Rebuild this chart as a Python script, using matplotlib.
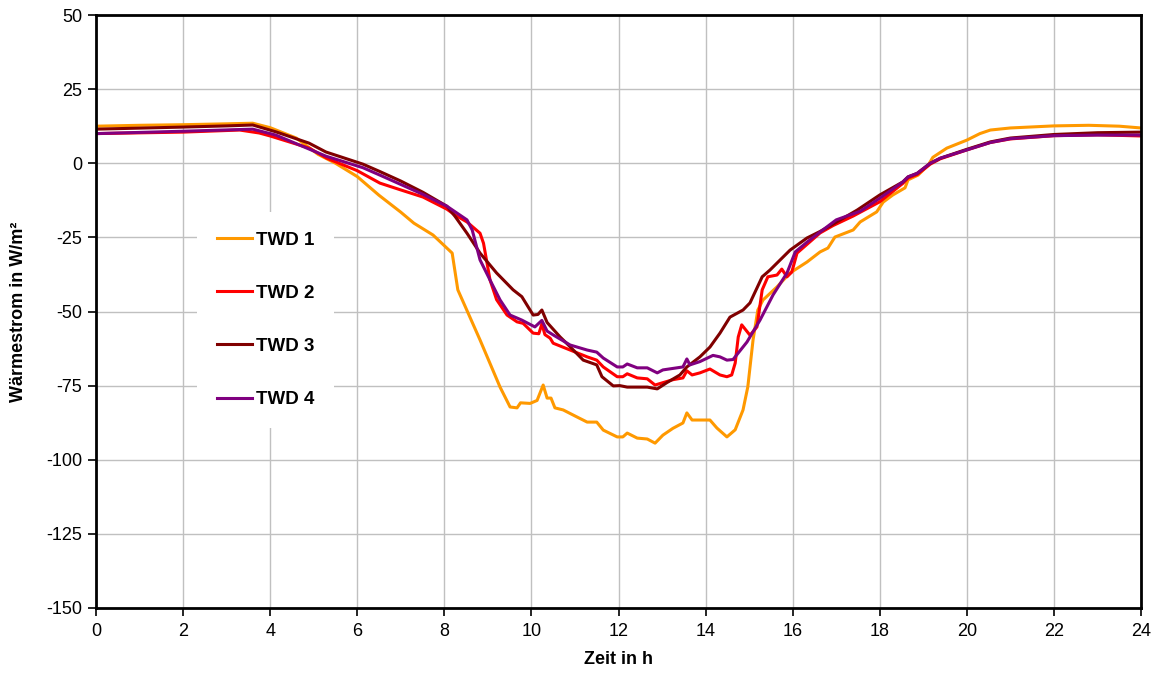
import matplotlib
matplotlib.use("Agg")
import matplotlib.pyplot as plt

plt.rcParams['font.family'] = ['Liberation Sans', 'DejaVu Sans']
plt.rcParams['axes.unicode_minus'] = False

# Heat flow measurements over one day (hours, W/m²)
twd1_h = [0, 1, 2, 3, 3.6, 4.0, 4.6, 5.1, 5.5, 6.0, 6.5, 7.0, 7.3, 7.74, 8.18, 8.31,
          8.82, 9.28, 9.51, 9.67, 9.75, 9.97, 10.13, 10.27, 10.36, 10.45, 10.54, 10.73,
          11.05, 11.28, 11.5, 11.65, 11.97, 12.1, 12.2, 12.43, 12.66, 12.84, 13.02,
          13.25, 13.48, 13.57, 13.69, 14.1, 14.26, 14.49, 14.68, 14.86, 14.97, 15.09,
          15.2, 15.32, 15.64, 15.94, 16.33, 16.63, 16.81, 16.97, 17.39, 17.55, 17.93,
          18.08, 18.3, 18.58, 18.65, 18.88, 19.11, 19.22, 19.54, 20.0, 20.3, 20.54,
          21.0, 22.0, 22.8, 23.5, 24.0]
twd1_q = [12.5, 12.8, 13, 13.3, 13.5, 12, 8.5, 3, 0, -4.5, -10.8, -16.5, -20.2, -24.2,
          -30.3, -42.7, -59.6, -75.5, -82.2, -82.5, -80.8, -81, -80, -74.8, -79.2, -79.2,
          -82.5, -83.2, -85.6, -87.3, -87.3, -90, -92.3, -92.3, -91, -92.7, -93, -94.4,
          -91.7, -89.4, -87.6, -84.2, -86.6, -86.6, -89.3, -92.3, -89.9, -83.2, -75.4,
          -59.6, -49.5, -46.1, -41.7, -37, -33.3, -29.9, -28.6, -24.9, -22.5, -19.8,
          -16.4, -13.1, -10.7, -8.3, -5.6, -4, -0.7, 2, 5.1, 7.8, 10, 11.2, 11.9, 12.6,
          12.8, 12.5, 11.9]

twd2_h = [0, 2, 3.3, 3.75, 4.0, 4.9, 5.3, 6.0, 6.52, 7.0, 7.51, 8.06, 8.25, 8.52, 8.82,
          8.9, 9.05, 9.2, 9.44, 9.67, 9.81, 10.04, 10.17, 10.24, 10.31, 10.43, 10.5,
          10.89, 11.28, 11.5, 11.65, 11.97, 12.1, 12.2, 12.43, 12.66, 12.84, 13.02,
          13.25, 13.48, 13.57, 13.69, 13.87, 14.1, 14.33, 14.49, 14.6, 14.68, 14.75,
          14.83, 15.02, 15.18, 15.3, 15.43, 15.64, 15.75, 15.87, 15.98, 16.1, 16.63,
          16.93, 17.39, 18.0, 18.53, 18.65, 18.86, 19.16, 19.39, 20.0, 20.54, 21.0,
          22.0, 23.0, 24.0]
twd2_q = [10, 10.5, 11.2, 10.2, 9.2, 5.1, 1.7, -2.5, -6.7, -9, -11.4, -15.5, -17.5, -19.8,
          -23.6, -27, -39.4, -46, -51.2, -53.5, -54, -57.3, -57.5, -54.2, -57.8, -59,
          -60.7, -63, -65.3, -66.4, -68.7, -72, -72, -71, -72.4, -72.7, -74.8, -74, -73,
          -72.4, -70, -71.4, -70.7, -69.4, -71.4, -72, -71.4, -67.4, -58.6, -54.5, -58,
          -55.2, -42.7, -38.3, -37.7, -35.7, -38.3, -36.7, -30.3, -23.5, -21, -17.8, -13,
          -6.8, -5, -3.8, -0.3, 1.5, 4.5, 7, 8.2, 9.3, 9.6, 9.2]

twd3_h = [0, 2, 3.0, 3.6, 4.13, 4.89, 5.28, 6.13, 6.52, 7.0, 7.51, 8.06, 8.25, 8.52,
          8.82, 9.2, 9.58, 9.78, 10.04, 10.15, 10.24, 10.36, 10.47, 10.66, 10.89, 11.19,
          11.5, 11.62, 11.88, 12.03, 12.2, 12.33, 12.66, 12.89, 13.11, 13.41, 13.57,
          13.72, 13.87, 14.1, 14.33, 14.56, 14.86, 15.02, 15.3, 15.48, 15.94, 16.33,
          16.63, 16.93, 17.48, 18.0, 18.53, 18.65, 18.86, 19.16, 19.39, 20.0, 20.54,
          21.0, 22.0, 23.0, 24.0]
twd3_q = [11.5, 12.2, 12.6, 12.9, 10.6, 6.8, 3.8, -0.3, -2.8, -6, -9.8, -14.5, -18, -23.6,
          -30.3, -37, -42.7, -45, -51.2, -51, -49.5, -53.7, -55.5, -58.6, -61.9, -66.4,
          -68, -72, -75.1, -75, -75.5, -75.5, -75.5, -76.1, -74, -71.4, -68.7, -67,
          -65.3, -62, -57.3, -51.9, -49.5, -47.1, -38.3, -36, -29.3, -25.2, -23, -20.5,
          -15.8, -10.7, -6.3, -4.6, -3.4, 0, 1.7, 4.7, 7.2, 8.5, 9.7, 10.3, 10.5]

twd4_h = [0, 2, 3.6, 4.13, 5.28, 6.13, 6.52, 7.51, 8.06, 8.25, 8.52, 8.64, 8.82, 9.05,
          9.28, 9.51, 9.67, 9.78, 10.08, 10.24, 10.36, 10.5, 10.89, 11.28, 11.5, 11.65,
          11.97, 12.1, 12.2, 12.43, 12.66, 12.89, 13.02, 13.48, 13.57, 13.64, 13.87,
          14.17, 14.33, 14.49, 14.63, 14.95, 15.25, 15.55, 15.87, 16.06, 16.33, 16.63,
          17.0, 17.55, 18.0, 18.53, 18.65, 18.86, 19.16, 19.39, 20.0, 20.54, 21.0, 22.0,
          23.0, 24.0]
twd4_q = [10, 10.8, 11.5, 9.5, 2.4, -1.5, -4, -10.5, -14.5, -16.4, -19.1, -22.5, -32.6,
          -39.4, -46.1, -51.2, -52.2, -52.9, -55.2, -53, -56.6, -57.9, -61.3, -63, -63.7,
          -65.7, -68.7, -68.7, -67.7, -69, -69, -70.7, -69.7, -68.7, -66, -68, -66.9,
          -64.8, -65.3, -66.4, -66.2, -60.3, -52.9, -44.4, -37, -29.9, -26.6, -23.2,
          -19.1, -16.2, -11.8, -6.3, -4.6, -3.4, 0, 1.7, 4.5, 7, 8.3, 9.3, 9.5, 9.5]

series_labels = ["TWD 1", "TWD 2", "TWD 3", "TWD 4"]
series_colors = ["#FF9900", "#FF0000", "#800000", "#800080"]
x_ticks = list(range(0, 25, 2))
y_ticks = list(range(-150, 51, 25))

fig = plt.figure(figsize=(11.58, 6.84), dpi=100)
ax = fig.add_axes([96 / 1158, 1 - 608 / 684, (1141 - 96) / 1158, (608 - 15) / 684])

for (h, q), lab, col in zip([(twd1_h, twd1_q), (twd2_h, twd2_q),
                             (twd3_h, twd3_q), (twd4_h, twd4_q)],
                            series_labels, series_colors):
    ax.plot(h, q, color=col, lw=2.2, label=lab, solid_joinstyle='round')

ax.set_xlim(0, 24)
ax.set_ylim(-150, 50)
ax.set_xticks(x_ticks)
ax.set_yticks(y_ticks)
ax.grid(True, color="#C0C0C0", lw=1.0)
ax.set_axisbelow(True)
for s in ax.spines.values():
    s.set_linewidth(2.0)
    s.set_color("black")
ax.tick_params(axis='both', direction='out', length=6, width=1.2, labelsize=13,
               color='black')
ax.tick_params(axis='x', pad=5)
ax.tick_params(axis='y', pad=4)

ax.set_xlabel("Zeit in h", fontsize=13, fontweight='bold', labelpad=8)
ax.set_ylabel("Wärmestrom in W/m²", fontsize=13, fontweight='bold')
ax.yaxis.set_label_coords(-0.0656, 0.5)

leg = ax.legend(loc='upper left', bbox_to_anchor=(197 / 1158, 1 - 212 / 684),
                bbox_transform=fig.transFigure, frameon=True, fancybox=False,
                edgecolor='none', facecolor='white', framealpha=1.0,
                prop={'size': 13.5, 'weight': 'bold'}, handlelength=1.9,
                handletextpad=0.2, labelspacing=1.92, borderpad=1.05,
                borderaxespad=0)
for line in leg.get_lines():
    line.set_linewidth(2.2)

fig.savefig("out.png", dpi=100)
